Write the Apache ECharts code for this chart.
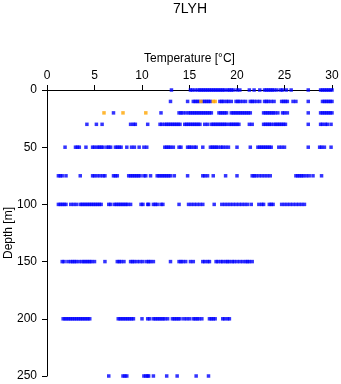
<!DOCTYPE html>
<html>
<head>
<meta charset="utf-8">
<script src="https://cdn.jsdelivr.net/npm/echarts@6/dist/echarts.min.js"></script>
<style>
html,body{margin:0;padding:0;background:#fff;}
#chart{width:341px;height:384px;}
</style>
</head>
<body>
<div id="chart"></div>
<script>
// Temperature values (°C) observed at each depth (m)
const depths = [0, 10, 20, 30, 50, 75, 100, 150, 200, 250];

const blue_d0 = [13.1, 15.1, 15.3, 15.6, 15.9, 16.1, 16.3, 16.5, 16.7, 16.9, 17.1, 17.3, 17.5, 17.7, 17.9, 18.1, 18.3, 18.5, 18.7, 19.0, 19.2, 19.4, 19.6, 20.0, 20.3, 21.3, 21.8, 22.4, 22.9, 23.1, 23.3, 23.5, 23.7, 23.9, 24.2, 24.6, 24.8, 25.2, 25.7, 27.5, 28.8, 29.0, 29.2, 29.4, 29.6, 29.8, 30.0];
const blue_d10 = [13.0, 14.8, 15.4, 15.6, 15.8, 16.0, 16.4, 16.6, 16.8, 17.0, 17.2, 18.2, 18.4, 18.6, 18.9, 19.1, 19.4, 19.9, 20.1, 20.3, 20.6, 20.9, 21.4, 21.6, 21.8, 22.1, 22.4, 22.9, 23.1, 23.3, 23.6, 23.9, 24.7, 24.9, 25.1, 25.3, 25.9, 26.2, 27.5, 29.0, 29.2, 29.4, 29.6, 29.8, 30.0];
const blue_d20 = [7.0, 12.0, 13.9, 14.1, 14.3, 14.6, 14.9, 15.1, 15.3, 15.5, 15.7, 15.9, 16.1, 16.3, 16.5, 16.7, 16.9, 17.1, 17.3, 18.1, 18.3, 18.5, 18.7, 18.9, 19.4, 19.6, 19.8, 20.0, 20.2, 20.4, 20.6, 20.8, 21.0, 21.2, 21.4, 22.8, 23.0, 23.2, 23.4, 23.6, 23.8, 24.0, 24.3, 24.8, 25.0, 25.3, 27.5, 28.8, 29.0, 29.2, 29.4, 29.6, 29.8, 30.0];
const blue_d30 = [4.2, 5.2, 5.8, 8.8, 9.1, 9.3, 10.6, 11.9, 12.1, 12.4, 12.6, 12.8, 13.0, 13.2, 13.4, 13.6, 13.8, 14.0, 14.5, 14.7, 14.9, 15.1, 15.3, 15.5, 15.7, 15.9, 16.1, 16.6, 16.9, 17.3, 17.5, 17.7, 17.9, 18.1, 18.3, 18.5, 18.7, 18.9, 19.2, 19.4, 19.6, 19.8, 20.0, 20.2, 21.3, 21.6, 22.8, 23.0, 23.2, 23.4, 23.6, 23.9, 24.1, 24.3, 24.5, 24.7, 24.9, 25.1, 27.5, 28.8, 29.0, 29.3, 29.5, 29.9];
const blue_d50 = [1.9, 3.0, 3.2, 3.4, 4.1, 4.8, 5.0, 5.3, 5.5, 5.7, 5.9, 6.3, 6.5, 6.7, 7.2, 7.4, 7.6, 7.8, 8.4, 8.9, 9.2, 9.7, 10.2, 10.5, 12.4, 12.6, 12.8, 13.0, 13.3, 13.9, 14.1, 14.8, 15.0, 15.2, 15.5, 15.7, 16.4, 17.2, 17.4, 17.6, 17.8, 18.0, 18.3, 18.5, 18.8, 19.1, 20.0, 21.4, 22.2, 22.4, 22.6, 22.8, 23.0, 23.2, 23.4, 23.6, 24.4, 24.7, 25.0, 27.5, 28.7, 28.9, 29.2, 29.9];
const blue_d75 = [1.2, 1.4, 1.6, 2.0, 3.5, 4.8, 5.0, 5.3, 5.6, 5.9, 6.1, 7.0, 7.2, 7.4, 8.6, 8.8, 9.0, 9.2, 9.4, 9.6, 9.8, 10.2, 10.4, 10.9, 11.6, 11.8, 12.0, 12.2, 12.4, 12.6, 12.8, 13.0, 13.4, 14.8, 16.4, 16.6, 16.9, 17.5, 18.8, 20.0, 21.6, 21.8, 22.0, 22.3, 22.6, 22.9, 23.2, 23.5, 26.2, 26.4, 26.6, 26.8, 27.0, 27.3, 27.6, 28.0, 28.9];
const blue_d100 = [1.2, 1.4, 1.6, 1.8, 2.0, 2.5, 2.8, 3.1, 3.5, 3.7, 3.9, 4.1, 4.3, 4.5, 4.7, 4.9, 5.1, 5.3, 5.5, 5.7, 6.5, 6.7, 7.1, 7.3, 7.5, 7.7, 7.9, 8.1, 8.3, 8.5, 8.8, 9.9, 10.1, 10.6, 10.7, 11.2, 11.4, 11.6, 12.0, 12.2, 13.9, 14.9, 15.2, 15.5, 15.8, 16.1, 16.4, 17.6, 18.4, 18.7, 19.0, 19.3, 19.6, 19.9, 20.2, 20.5, 20.8, 21.1, 21.5, 22.3, 22.6, 22.8, 23.4, 23.6, 23.8, 24.7, 25.0, 25.3, 25.6, 25.9, 26.2, 26.5, 26.8, 27.1];
const blue_d150 = [1.6, 1.8, 2.2, 2.5, 2.7, 2.9, 3.1, 3.4, 3.7, 3.9, 4.1, 4.3, 4.5, 4.7, 5.0, 6.1, 7.4, 7.6, 7.8, 8.1, 8.8, 9.0, 9.2, 9.5, 9.8, 10.1, 10.5, 10.7, 10.9, 11.2, 13.0, 13.9, 14.1, 14.3, 14.6, 15.1, 15.4, 16.4, 16.6, 16.9, 17.1, 17.8, 18.0, 18.3, 18.5, 18.8, 19.0, 19.2, 19.5, 19.7, 20.0, 20.3, 20.6, 20.9, 21.1, 21.3, 21.6];
const blue_d200 = [1.7, 1.9, 2.1, 2.3, 2.5, 2.7, 2.9, 3.1, 3.3, 3.5, 3.7, 3.9, 4.1, 4.3, 4.5, 7.5, 7.7, 7.9, 8.1, 8.3, 8.5, 8.7, 8.9, 9.1, 10.0, 10.6, 10.8, 11.2, 11.4, 11.6, 11.8, 12.0, 12.2, 12.4, 12.7, 13.2, 13.4, 13.6, 13.8, 14.0, 14.4, 14.7, 15.0, 15.4, 15.6, 15.8, 16.0, 16.3, 17.1, 17.3, 17.5, 17.7, 18.5, 18.7, 19.0, 19.2];
const blue_d250 = [6.5, 8.0, 8.2, 8.4, 10.2, 10.4, 10.6, 10.7, 11.2, 12.6, 13.7, 15.7, 17.0];

const orange_d10 = [16.2, 17.5, 17.7];
const orange_d20 = [6.0, 8.0, 10.4];

const xTicks = [0, 5, 10, 15, 20, 25, 30];
const yTicks = [0, 50, 100, 150, 200, 250];

const blueByDepth = [blue_d0, blue_d10, blue_d20, blue_d30, blue_d50, blue_d75, blue_d100, blue_d150, blue_d200, blue_d250];
const blueData = [];
blueByDepth.forEach((arr, i) => arr.forEach(t => blueData.push([t, depths[i]])));
const orangeData = [];
orange_d10.forEach(t => orangeData.push([t, 10]));
orange_d20.forEach(t => orangeData.push([t, 20]));

const FONT = 'Liberation Sans';
const chart = echarts.init(document.getElementById('chart'), null, {renderer: 'canvas'});
chart.setOption({
  animation: false,
  backgroundColor: '#fff',
  title: {
    text: '7LYH',
    left: 190, textAlign: 'center',
    top: 2,
    padding: 0,
    textStyle: {fontFamily: FONT, fontSize: 14, fontWeight: 'normal', color: '#000'}
  },
  grid: {left: 47, right: 9, top: 90, bottom: 8, containLabel: false, outerBoundsMode: 'none'},
  xAxis: {
    type: 'value', position: 'top',
    min: xTicks[0], max: xTicks[xTicks.length - 1], interval: 5,
    name: 'Temperature [°C]', nameLocation: 'middle', nameGap: 25, nameMoveOverlap: false,
    nameTextStyle: {fontFamily: FONT, fontSize: 12, color: '#000'},
    axisLine: {show: true, lineStyle: {color: '#000', width: 1}},
    axisTick: {show: true, length: 5, inside: false, lineStyle: {color: '#000'}},
    axisLabel: {fontFamily: FONT, fontSize: 12, color: '#000', margin: 8},
    splitLine: {show: false}
  },
  yAxis: {
    type: 'value', inverse: true,
    min: yTicks[0], max: yTicks[yTicks.length - 1], interval: 50,
    name: 'Depth [m]', nameLocation: 'middle', nameGap: 32, nameRotate: 90, nameMoveOverlap: false,
    nameTextStyle: {fontFamily: FONT, fontSize: 12, color: '#000'},
    axisLine: {show: true, lineStyle: {color: '#000', width: 1}},
    axisTick: {show: true, length: 5, inside: false, lineStyle: {color: '#000'}},
    axisLabel: {fontFamily: FONT, fontSize: 12, color: '#000', margin: 10},
    splitLine: {show: false}
  },
  series: [
    {type: 'scatter', data: blueData, symbol: 'rect', symbolSize: 3.5,
     itemStyle: {color: '#0000ff'}, clip: false, z: 2},
    {type: 'scatter', data: orangeData, symbol: 'rect', symbolSize: 3.5,
     itemStyle: {color: '#ffa500'}, clip: false, z: 3}
  ]
});
</script>
</body>
</html>
